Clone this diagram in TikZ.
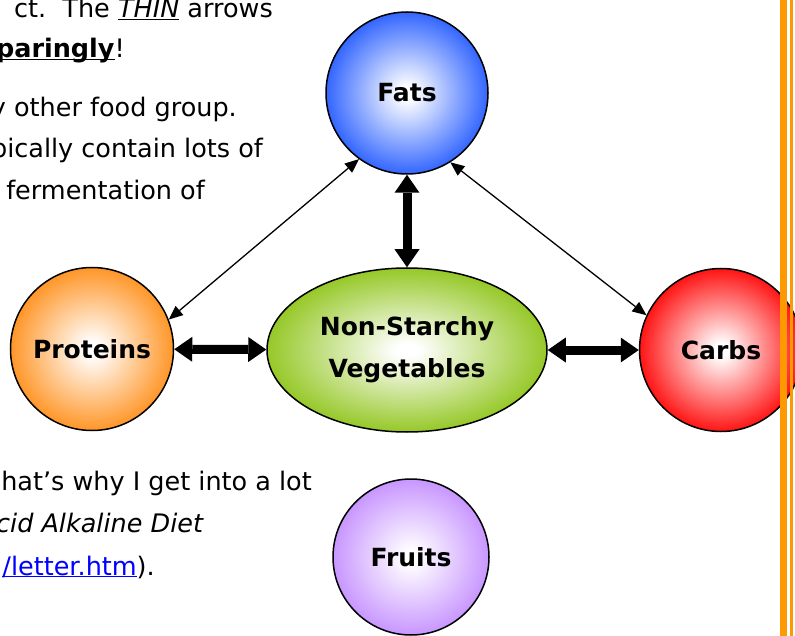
\documentclass[tikz,border=0pt]{standalone}
\usepackage{fontspec}
\usepackage{xcolor}
\usetikzlibrary{arrows.meta, shapes.geometric}
\newfontfamily\pagefont{DejaVu Sans}
\definecolor{fatsblue}{RGB}{51,102,255}
\definecolor{protorange}{RGB}{255,150,40}
\definecolor{carbred}{RGB}{255,20,20}
\definecolor{vegegreen}{RGB}{150,200,40}
\definecolor{fruitpurple}{RGB}{200,150,255}
\definecolor{barorange}{RGB}{255,153,0}
\definecolor{linkblue}{RGB}{0,0,255}
\newcommand{\uln}[1]{\underline{\smash{#1}}}
\makeatletter
\pgfdeclareradialshading[tikz@ball]{foodball}{\pgfpoint{0bp}{0bp}}{%
  color(0bp)=(white); color(2bp)=(white); color(25bp)=(tikz@ball); color(50bp)=(tikz@ball)}
\makeatother

\begin{document}
\begin{tikzpicture}[x=1pt, y=-1pt,
    food/.style={circle, draw=black, line width=1.5pt, ball color=#1, shading=foodball,
      inner sep=0pt, font=\pagefont\bfseries\fontsize{25}{42}\selectfont, align=center},
    pagetext/.style={anchor=base east, inner sep=0pt, font=\pagefont\fontsize{25.5}{30}\selectfont},
    thickarr/.style={line width=9pt, {Triangle[width=25pt, length=18pt, line width=0pt]}-{Triangle[width=25pt, length=18pt, line width=0pt]}},
    thinarr/.style={line width=1.3pt, {Triangle[width=12pt, length=14pt, line width=0pt]}-{Triangle[width=12pt, length=14pt, line width=0pt]}}]
  \path[use as bounding box, clip] (0,0) rectangle (795,636);
  \fill[white] (0,0) rectangle (795,636);
  % page text (cut at the left)
  \node[pagetext] (t1) at (273,18) {ct.\ \ The \uln{\textit{THIN}} arrows};
  \node[pagetext] (t2) at (125,58) {\uln{\textbf{paringly}}!};
  \node[pagetext] (t3) at (237,117) {y other food group.};
  \node[pagetext] (t4) at (263,158) {pically contain lots of};
  \node[pagetext] (t5) at (205,200) {fermentation of};
  \node[pagetext] (t6) at (312,490) {hat’s why I get into a lot};
  \node[pagetext] (t7) at (204,532) {\textit{cid Alkaline Diet}};
  \node[pagetext] (t8) at (155,575) {\textcolor{linkblue}{\uln{/letter.htm}}).};
  % food groups
  \node[food=fatsblue, minimum size=162pt] (fats) at (407,93) {Fats};
  \node[food=protorange, minimum size=163pt] (prot) at (92,349) {Proteins};
  \node[food=carbred, minimum size=163pt] (carb) at (721,350) {Carbs};
  \node[food=vegegreen, ellipse, minimum width=280pt, minimum height=164pt] (vege) at (407,350) {Non-Starchy\\Vegetables};
  \node[food=fruitpurple, minimum size=156pt] (fruit) at (411,557) {Fruits};
  % arrows
  \draw[thickarr] (fats) -- (vege);
  \draw[thickarr] (prot) -- (vege);
  \draw[thickarr] (vege) -- (carb);
  \draw[thinarr] (fats.234) -- (prot.21);
  \draw[thinarr] (fats.302) -- (carb.155);
  % page border
  \fill[barorange] (780,0) rectangle (787,636);
  \fill[barorange] (790,0) rectangle (793,636);
\end{tikzpicture}
\end{document}
